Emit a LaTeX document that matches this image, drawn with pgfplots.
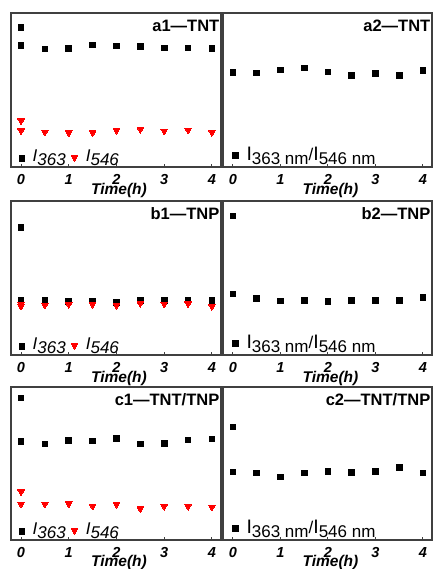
\documentclass[border=0pt]{standalone}
\usepackage{fontspec}
\setmainfont{Liberation Sans}
\usepackage{pgfplots}
\pgfplotsset{compat=1.18}
\pgfplotsset{
  panel/.style={
    scale only axis, height=154pt,
    xmin=-0.21, xmax=4.19, ymin=0, ymax=154,
    ytick=\empty, xtick={0,1,2,3,4}, xticklabels={0,1,2,3,4},
    xtick pos=bottom, tick align=inside, major tick length=3pt,
    axis line style={black!75, line width=1.3pt},
    every tick/.style={black!75, line width=1pt},
    xticklabel style={font=\fontsize{14.5}{15}\selectfont\bfseries\itshape, inner sep=0pt, anchor=north, yshift=-7pt},
    xlabel={Time(h)},
    xlabel style={at={(axis description cs:0.5,0)}, anchor=north, inner sep=0pt, yshift=-16pt, xshift=3pt, font=\fontsize{15.5}{16}\selectfont\bfseries\itshape},
    clip=false,
    legend columns=-1,
  },
  leftp/.style={panel, width=210pt,
    legend image code/.code={\draw[##1, only marks] plot coordinates {(0pt,3pt)};},
    legend style={draw=none, fill=none, inner sep=0pt, nodes={inner sep=0pt, anchor=base},
      at={(rel axis cs:0,0)}, anchor=south west, xshift=7.9pt, yshift=4pt,
      font=\fontsize{17}{17}\selectfont\itshape}},
  rightp/.style={panel, width=209pt,
    legend image code/.code={\draw[##1, only marks] plot coordinates {(0pt,5pt)};},
    legend style={draw=none, fill=none, inner sep=0pt, nodes={inner sep=0pt, anchor=base},
      at={(rel axis cs:0,0)}, anchor=south west, xshift=9.2pt, yshift=4.7pt,
      font=\fontsize{17}{17}\selectfont}},
  blk/.style={only marks, mark=square*, mark size=2.8pt, black, mark options={line width=0pt}},
  rd/.style={only marks, mark=triangle*, mark size=3.8pt, red, mark options={rotate=180, line width=0pt},
    legend image code/.code={\draw[##1, only marks] plot coordinates {(0pt,4pt)};}},
}
\newcommand{\ttl}[1]{\node[anchor=north east, inner sep=0pt, xshift=-1.5pt, yshift=-6.5pt, font=\fontsize{16.5}{17}\selectfont\bfseries] at (rel axis cs:1,1) {#1};}
\newcommand{\lsub}[1]{I\raisebox{-4pt}{#1}}
\newcommand{\rlab}{{\fontsize{19.5}{19}\selectfont I}\raisebox{-4pt}{363 nm}/{\fontsize{19.5}{19}\selectfont I}\raisebox{-4pt}{546 nm}}
\begin{document}
\begin{tikzpicture}
\useasboundingbox (0,0) rectangle (433pt,569pt);
% ---------- row 1 ----------
\begin{axis}[leftp, at={(11pt,402pt)}, anchor=south west]
\addplot[blk] coordinates {(0,139.7)(0,121.3)(0.5,118)(1,118.7)(1.5,122)(2,121)(2.5,120.7)(3,119)(3.5,119)(4,118.3)};
\addlegendentry{\hspace*{8pt}\lsub{363}\hspace*{5.5pt}}
\addplot[rd] coordinates {(0,46.3)(0,36.3)(0.5,35)(1,34.3)(1.5,34.3)(2,36.7)(2.5,37.7)(3,36)(3.5,37)(4,34.7)};
\addlegendentry{\hspace*{8pt}\lsub{546}}
\ttl{a1—TNT}
\end{axis}
\begin{axis}[rightp, at={(223pt,402pt)}, anchor=south west]
\addplot[blk] coordinates {(0,94.7)(0.5,94)(1,97)(1.5,99)(2,95)(2.5,91.7)(3,93.7)(3.5,91.7)(4,96.3)};
\addlegendentry{\hspace*{8.5pt}\rlab}
\ttl{a2—TNT}
\end{axis}
% ---------- row 2 ----------
\begin{axis}[leftp, at={(11pt,214pt)}, anchor=south west]
\addplot[blk] coordinates {(0,127.3)(0,55)(0.5,54.7)(1,53.3)(1.5,54)(2,52.3)(2.5,54.7)(3,54.7)(3.5,54.7)(4,54.3)};
\addlegendentry{\hspace*{8pt}\lsub{363}\hspace*{5.5pt}}
\addplot[rd] coordinates {(0,50.7)(0,49)(0.5,50)(1,50.7)(1.5,50.7)(2,49.7)(2.5,51.7)(3,51)(3.5,51.3)(4,48.7)};
\addlegendentry{\hspace*{8pt}\lsub{546}}
\ttl{b1—TNP}
\end{axis}
\begin{axis}[rightp, at={(223pt,214pt)}, anchor=south west]
\addplot[blk] coordinates {(0,139)(0,61)(0.5,56.7)(1,54)(1.5,54.7)(2,53.3)(2.5,54.7)(3,54.3)(3.5,54.3)(4,57.7)};
\addlegendentry{\hspace*{8.5pt}\rlab}
\ttl{b2—TNP}
\end{axis}
% ---------- row 3 ----------
\begin{axis}[leftp, at={(11pt,29pt)}, anchor=south west, height=153pt, ymax=153, xlabel style={yshift=1pt}]
\addplot[blk] coordinates {(0,142)(0,98.3)(0.5,96)(1,99.7)(1.5,99)(2,101.3)(2.5,96)(3,96.3)(3.5,100)(4,101)};
\addlegendentry{\hspace*{8pt}\lsub{363}\hspace*{5.5pt}}
\addplot[rd] coordinates {(0,48.3)(0,36)(0.5,36)(1,36.3)(1.5,34)(2,35.7)(2.5,31.3)(3,33.7)(3.5,33.7)(4,33)};
\addlegendentry{\hspace*{8pt}\lsub{546}}
\ttl{c1—TNT/TNP}
\end{axis}
\begin{axis}[rightp, at={(223pt,29pt)}, anchor=south west, height=153pt, ymax=153, xlabel style={yshift=1pt}]
\addplot[blk] coordinates {(0,113)(0,68)(0.5,67)(1,63)(1.5,67)(2,68.5)(2.5,67.5)(3,68.5)(3.5,72.5)(4,67)};
\addlegendentry{\hspace*{8.5pt}\rlab}
\ttl{c2—TNT/TNP}
\end{axis}
\end{tikzpicture}
\end{document}
